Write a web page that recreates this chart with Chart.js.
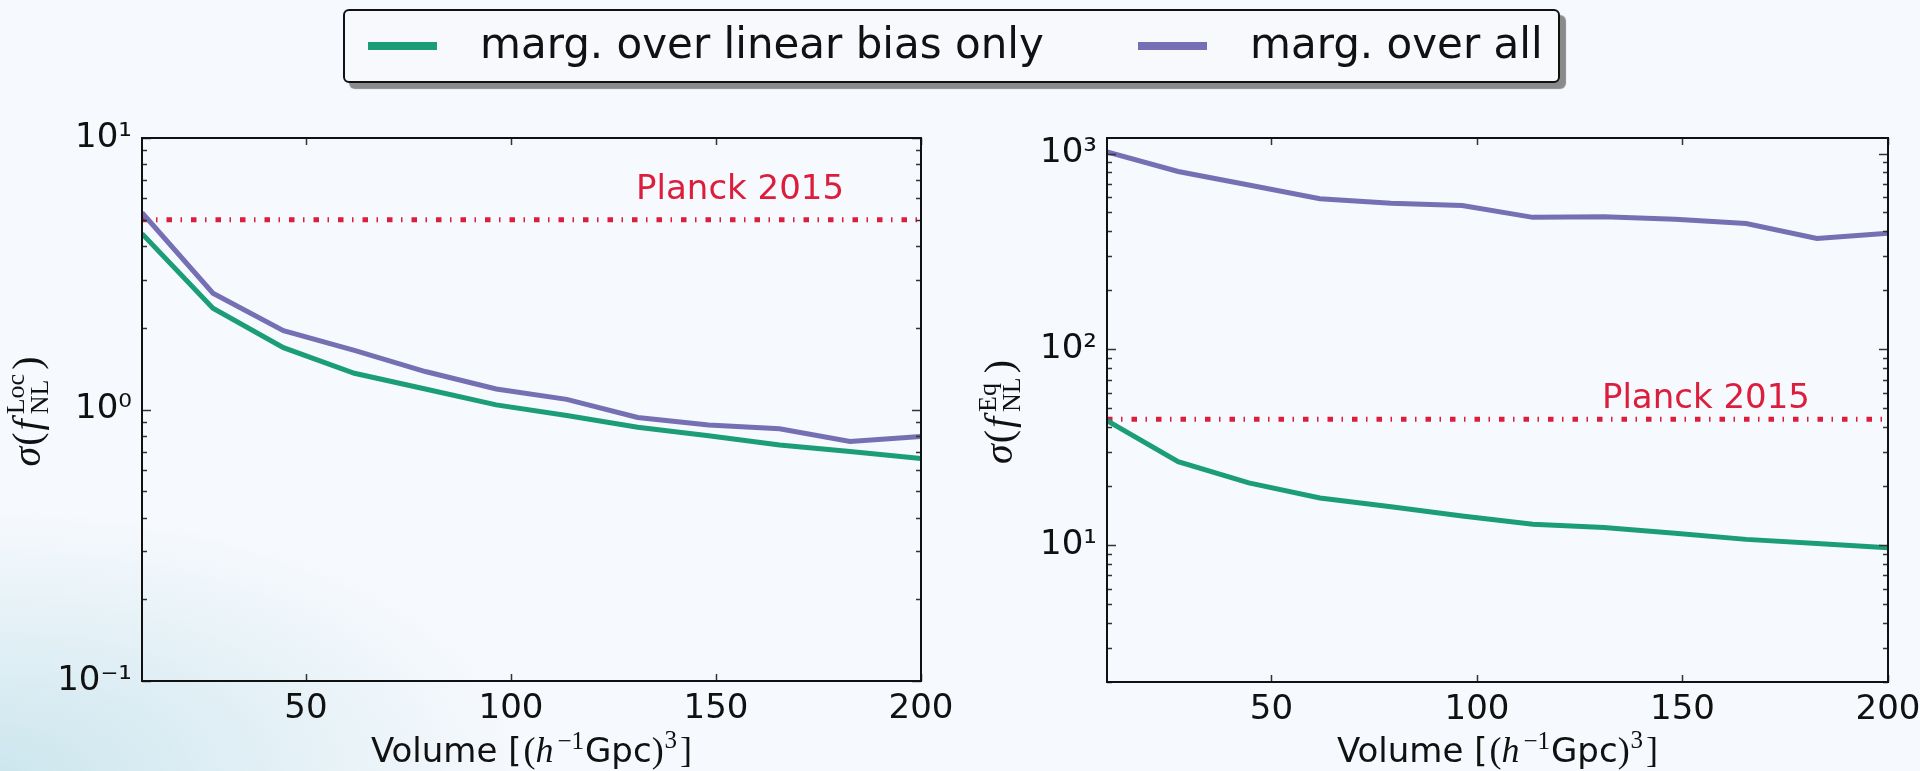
<!DOCTYPE html>
<html>
<head>
<meta charset="utf-8">
<script src="https://cdn.jsdelivr.net/npm/chart.js@4.4.1/dist/chart.umd.min.js"></script>
<style>
  html, body { margin: 0; padding: 0; }
  body {
    width: 1920px; height: 771px; overflow: hidden; position: relative;
    background:
      radial-gradient(ellipse 520px 260px at 0% 100%, rgba(200,228,236,0.9), rgba(200,228,236,0) 100%),
      #f6f9fd;
    font-family: 'DejaVu Sans', sans-serif;
  }
  .panel { position: absolute; top: 0; width: 960px; height: 771px; }
  #legend {
    position: absolute; left: 343px; top: 9px; width: 1213px; height: 70px;
    border: 2px solid #111; border-radius: 6px; background: #f7f9fd;
    box-shadow: 6px 6px 1px #8a8a8a;
  }
  .swatch { position: absolute; top: 31px; width: 69px; height: 8px; }
  .label { position: absolute; top: 8px; font-size: 42px; line-height: 50px; color: #111; white-space: nowrap; }
</style>
</head>
<body>
<div class="panel" style="left:0"><canvas id="locChart" width="960" height="771"></canvas></div>
<div class="panel" style="left:960px"><canvas id="eqChart" width="960" height="771"></canvas></div>
<div id="legend">
  <div class="swatch" style="left:23px; background:#1b9e77"></div>
  <div class="label" style="left:135px">marg. over linear bias only</div>
  <div class="swatch" style="left:793px; background:#7570b3"></div>
  <div class="label" style="left:905px">marg. over all</div>
</div>
<script>
// survey volume, (h^-1 Gpc)^3
const volume = [10, 27.3, 44.5, 61.8, 79.1, 96.4, 113.6, 130.9, 148.2, 165.5, 182.7, 200];

// sigma(fNL local)
const locLinearBias = [4.44, 2.36, 1.69, 1.36, 1.19, 1.04, 0.95, 0.86, 0.80, 0.74, 0.70, 0.66];
const locAll = [5.31, 2.68, 1.95, 1.65, 1.38, 1.19, 1.09, 0.935, 0.877, 0.849, 0.762, 0.796];

// sigma(fNL equilateral)
const eqLinearBias = [43.2, 26.7, 20.8, 17.4, 15.7, 14.1, 12.8, 12.3, 11.5, 10.7, 10.2, 9.7];
const eqAll = [1020, 809, 691, 588, 557, 542, 472, 476, 461, 439, 368, 392];

const planckLoc = 5;
const planckEq = 44;
const planckLabel = 'Planck 2015';

const xTicks = [50, 100, 150, 200];
const seriesNames = ['marg. over linear bias only', 'marg. over all'];

const GREEN = '#1b9e77';
const PURPLE = '#7570b3';
const RED = '#dc1e3c';
const SANS = "'DejaVu Sans', sans-serif";
const SERIF = "'Liberation Serif', 'DejaVu Serif', serif";

const SUP = { '0': '\u2070', '1': '\u00b9', '2': '\u00b2', '3': '\u00b3', '-': '\u207b' };
function decadeLabel(v) {
    const e = Math.log10(v);
    if (Math.abs(e - Math.round(e)) > 1e-6) return '';
    return '10' + String(Math.round(e)).split('').map(c => SUP[c]).join('');
}

function isLogTick(v) {
    const m = v / Math.pow(10, Math.floor(Math.log10(v) + 1e-9));
    return Math.abs(m - Math.round(m)) < 1e-6;
}

// text with math pieces: [{t, f, dy, gap}] or [{sup, sub, f, supDy, subDy}]
function drawRich(ctx, segs, x, y, angle) {
    ctx.save();
    ctx.translate(x, y);
    ctx.rotate(angle);
    ctx.textAlign = 'left';
    ctx.textBaseline = 'alphabetic';
    ctx.fillStyle = '#111';
    const widths = segs.map(s => {
        ctx.font = s.f;
        const w = s.sup ? Math.max(ctx.measureText(s.sup).width, ctx.measureText(s.sub).width)
                        : ctx.measureText(s.t).width;
        return w + (s.gap || 0);
    });
    let cx = -widths.reduce((a, b) => a + b, 0) / 2;
    segs.forEach((s, i) => {
        ctx.font = s.f;
        if (s.sup) {
            ctx.fillText(s.sup, cx, -s.supDy);
            ctx.fillText(s.sub, cx, s.subDy);
        } else {
            ctx.fillText(s.t, cx, -(s.dy || 0));
        }
        cx += widths[i];
    });
    ctx.restore();
}

function xTitle(ctx, cx) {
    drawRich(ctx, [
        { t: 'Volume [', f: '34px ' + SANS, gap: 2 },
        { t: '(', f: '36px ' + SERIF },
        { t: 'h', f: 'italic 36px ' + SERIF, gap: 4 },
        { t: '\u22121', f: '25px ' + SERIF, dy: 13, gap: 1 },
        { t: 'Gpc', f: '34px ' + SANS },
        { t: ')', f: '36px ' + SERIF, gap: 1 },
        { t: '3', f: '25px ' + SERIF, dy: 14, gap: 3 },
        { t: ']', f: '36px ' + SERIF }
    ], cx, 762, 0);
}

function yTitle(ctx, bx, cy, tag) {
    drawRich(ctx, [
        { t: '\u03c3', f: 'italic 40px ' + SERIF, gap: 1 },
        { t: '(', f: '40px ' + SERIF, gap: 2 },
        { t: 'f', f: 'italic 40px ' + SERIF, gap: 5 },
        { sup: tag, sub: 'NL', f: '26px ' + SERIF, supDy: 16, subDy: 8, gap: 4 },
        { t: ')', f: '40px ' + SERIF }
    ], bx, cy, -Math.PI / 2);
}

// frame, inward ticks, axis titles and the Planck note
function framePlugin(cfg) {
    return {
        id: 'frame',
        afterDraw(chart) {
            const { ctx, chartArea: a, scales: { x, y } } = chart;
            ctx.save();
            ctx.strokeStyle = '#333';
            ctx.lineWidth = 1.5;
            y.ticks.forEach(t => {
                if (!isLogTick(t.value)) return;
                const py = Math.round(y.getPixelForValue(t.value)) + 0.5;
                const len = decadeLabel(t.value) ? 9 : 5;
                ctx.beginPath();
                ctx.moveTo(a.left, py); ctx.lineTo(a.left + len, py);
                ctx.moveTo(a.right, py); ctx.lineTo(a.right - len, py);
                ctx.stroke();
            });
            x.ticks.forEach(t => {
                const px = Math.round(x.getPixelForValue(t.value)) + 0.5;
                ctx.beginPath();
                ctx.moveTo(px, a.bottom); ctx.lineTo(px, a.bottom - 7);
                ctx.moveTo(px, a.top); ctx.lineTo(px, a.top + 7);
                ctx.stroke();
            });
            ctx.strokeStyle = '#111';
            ctx.lineWidth = 2;
            ctx.strokeRect(a.left, a.top, a.right - a.left, a.bottom - a.top);

            ctx.font = '34px ' + SANS;
            ctx.fillStyle = RED;
            ctx.textAlign = 'left';
            ctx.textBaseline = 'alphabetic';
            ctx.fillText(planckLabel, x.getPixelForValue(cfg.noteX), y.getPixelForValue(cfg.noteY));
            ctx.restore();

            xTitle(ctx, (a.left + a.right) / 2);
            yTitle(ctx, cfg.titleX, (a.top + a.bottom) / 2 + 2, cfg.tag);
        }
    };
}

function makeChart(id, cfg) {
    return new Chart(document.getElementById(id).getContext('2d'), {
        type: 'line',
        data: {
            datasets: [
                {
                    label: seriesNames[0],
                    data: volume.map((v, i) => ({ x: v, y: cfg.linear[i] })),
                    borderColor: GREEN, borderWidth: 5, pointRadius: 0, tension: 0
                },
                {
                    label: seriesNames[1],
                    data: volume.map((v, i) => ({ x: v, y: cfg.all[i] })),
                    borderColor: PURPLE, borderWidth: 5, pointRadius: 0, tension: 0
                },
                {
                    label: planckLabel,
                    data: [{ x: volume[0], y: cfg.planck }, { x: volume[volume.length - 1], y: cfg.planck }],
                    borderColor: RED, borderWidth: 5, pointRadius: 0,
                    borderDash: [5.5, 8.5, 1.5, 9], borderCapStyle: 'butt'
                }
            ]
        },
        options: {
            responsive: false,
            animation: false,
            events: [],
            layout: { padding: { left: 0, top: 138, right: cfg.padRight, bottom: 0 } },
            plugins: { legend: { display: false }, tooltip: { enabled: false } },
            scales: {
                x: {
                    type: 'linear', min: 10, max: 200,
                    afterBuildTicks: s => { s.ticks = xTicks.map(v => ({ value: v })); },
                    afterFit: s => { s.height = cfg.xHeight; s.paddingLeft = 0; s.paddingRight = 0; },
                    grid: { display: false, drawTicks: false },
                    border: { display: false },
                    ticks: { font: { family: SANS, size: 34 }, color: '#111', padding: 8, maxRotation: 0, autoSkip: false }
                },
                y: {
                    type: 'logarithmic', min: cfg.yMin, max: cfg.yMax,
                    afterFit: s => { s.width = cfg.yWidth; s.paddingTop = 0; s.paddingBottom = 0; },
                    grid: { display: false, drawTicks: false },
                    border: { display: false },
                    ticks: {
                        font: { family: SANS, size: 34 }, color: '#111', padding: 10,
                        autoSkip: false, callback: v => decadeLabel(v)
                    }
                }
            }
        },
        plugins: [framePlugin(cfg)]
    });
}

makeChart('locChart', {
    linear: locLinearBias, all: locAll, planck: planckLoc,
    yMin: 0.1, yMax: 10, yWidth: 142, xHeight: 90, padRight: 39,
    noteX: 130.5, noteY: 5.95, titleX: 40, tag: 'Loc'
});

makeChart('eqChart', {
    linear: eqLinearBias, all: eqAll, planck: planckEq,
    yMin: 2, yMax: 1200, yWidth: 147, xHeight: 89, padRight: 32,
    noteX: 130.4, noteY: 50, titleX: 52, tag: 'Eq'
});
</script>
</body>
</html>
